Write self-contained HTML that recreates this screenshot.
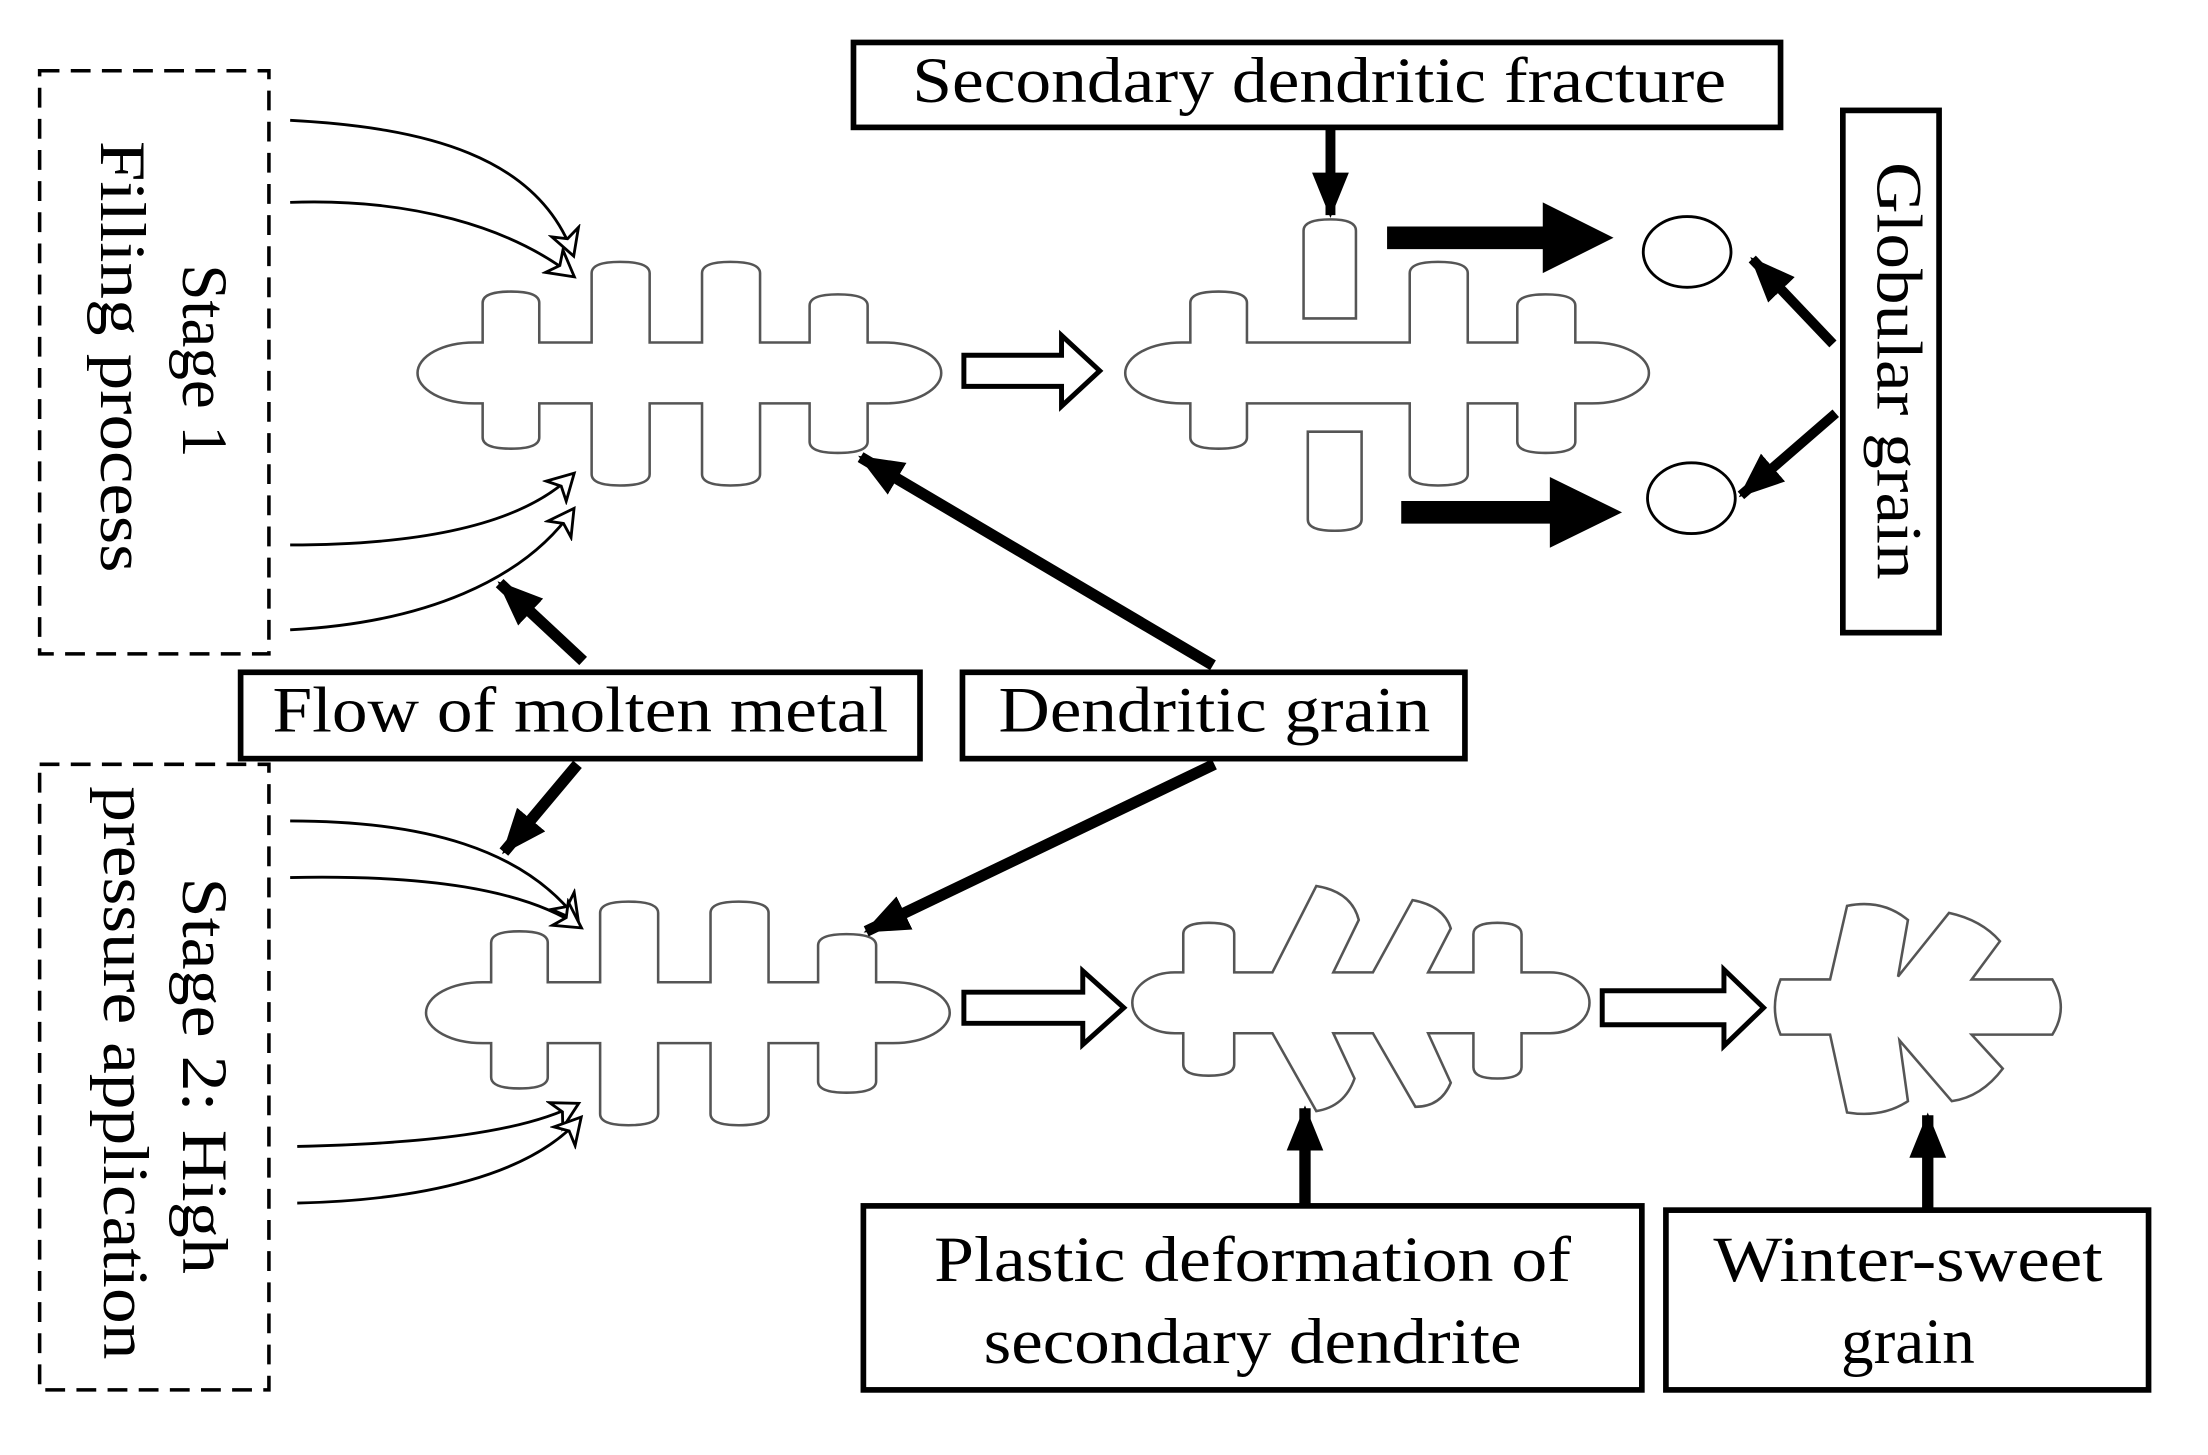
<!DOCTYPE html>
<html><head><meta charset="utf-8"><style>
html,body{margin:0;padding:0;background:#fff;}
svg{display:block;}
text{font-family:"Liberation Serif",serif;font-size:46px;fill:#000;}
</style></head><body>
<svg width="2208" height="1455" viewBox="0 0 1560 1028" preserveAspectRatio="none" xmlns="http://www.w3.org/2000/svg">
<defs>
<marker id="open" markerWidth="24" markerHeight="24" refX="19" refY="12" orient="auto" markerUnits="userSpaceOnUse">
<path d="M2,2 L20,12 L2,22 L7,12 Z" fill="#fff" stroke="#000" stroke-width="2"/>
</marker>
<marker id="solid" markerWidth="34" markerHeight="34" refX="30" refY="17" orient="auto" markerUnits="userSpaceOnUse">
<path d="M0,4 L32,17 L0,30 Z" fill="#000"/>
</marker>
</defs>

<rect x="28" y="50" width="162" height="412" fill="none" stroke="#000" stroke-width="2.5" stroke-dasharray="14,8"/>
<rect x="28" y="540" width="162" height="442" fill="none" stroke="#000" stroke-width="2.5" stroke-dasharray="14,8"/>
<text transform="translate(140,255) rotate(90)" text-anchor="middle" dominant-baseline="middle">Stage 1</text>
<text transform="translate(82,252) rotate(90)" text-anchor="middle" dominant-baseline="middle" textLength="305" lengthAdjust="spacingAndGlyphs">Filling process</text>
<text transform="translate(140,760) rotate(90)" text-anchor="middle" dominant-baseline="middle" textLength="280" lengthAdjust="spacingAndGlyphs">Stage 2: High</text>
<text transform="translate(84,758) rotate(90)" text-anchor="middle" dominant-baseline="middle" textLength="405" lengthAdjust="spacingAndGlyphs">pressure application</text>

<g fill="none" stroke="#000" stroke-width="2" marker-end="url(#open)">
<path d="M205,85 C300,90 380,110 405,180"/>
<path d="M205,143 C290,140 360,160 405,195"/>
<path d="M205,385 C300,385 370,370 405,335"/>
<path d="M205,445 C300,440 370,410 405,360"/>
<path d="M205,580 C300,580 370,600 408,650"/>
<path d="M205,620 C300,618 370,628 410,655"/>
<path d="M210,810 C300,808 370,800 408,780"/>
<path d="M210,850 C300,848 375,830 410,790"/>
</g>

<g fill="#fff" stroke="#555" stroke-width="1.8">
<path d="M335,242 L341,242 L341,214 Q341,206 361,206 Q381,206 381,214 L381,242 L418,242 L418,193 Q418,185 438,185 Q459,185 459,193 L459,242 L496,242 L496,193 Q496,185 516,185 Q537,185 537,193 L537,242 L572,242 L572,216 Q572,208 592,208 Q613,208 613,216 L613,242 L625,242 A40,21.5 0 0 1 625,285 L613,285 L613,312 Q613,320 592,320 Q572,320 572,312 L572,285 L537,285 L537,335 Q537,343 516,343 Q496,343 496,335 L496,285 L459,285 L459,335 Q459,343 438,343 Q418,343 418,335 L418,285 L381,285 L381,309 Q381,317 361,317 Q341,317 341,309 L341,285 L335,285 A40,21.5 0 0 1 335,242 Z"/>
<path transform="translate(6,452)" d="M335,242 L341,242 L341,214 Q341,206 361,206 Q381,206 381,214 L381,242 L418,242 L418,193 Q418,185 438,185 Q459,185 459,193 L459,242 L496,242 L496,193 Q496,185 516,185 Q537,185 537,193 L537,242 L572,242 L572,216 Q572,208 592,208 Q613,208 613,216 L613,242 L625,242 A40,21.5 0 0 1 625,285 L613,285 L613,312 Q613,320 592,320 Q572,320 572,312 L572,285 L537,285 L537,335 Q537,343 516,343 Q496,343 496,335 L496,285 L459,285 L459,335 Q459,343 438,343 Q418,343 418,335 L418,285 L381,285 L381,309 Q381,317 361,317 Q341,317 341,309 L341,285 L335,285 A40,21.5 0 0 1 335,242 Z"/>
<path transform="translate(500,0)" d="M335,242 L341,242 L341,214 Q341,206 361,206 Q381,206 381,214 L381,242 L496,242 L496,193 Q496,185 516,185 Q537,185 537,193 L537,242 L572,242 L572,216 Q572,208 592,208 Q613,208 613,216 L613,242 L625,242 A40,21.5 0 0 1 625,285 L613,285 L613,312 Q613,320 592,320 Q572,320 572,312 L572,285 L537,285 L537,335 Q537,343 516,343 Q496,343 496,335 L496,285 L381,285 L381,309 Q381,317 361,317 Q341,317 341,309 L341,285 L335,285 A40,21.5 0 0 1 335,242 Z"/>
<path d="M921,225 L921,163 Q921,155 940,155 Q958,155 958,163 L958,225 Z"/>
<path d="M924,305 L962,305 L962,367 Q962,375 943,375 Q924,375 924,367 Z"/>
<path d="M830,687 L836,687 L836,660 Q836,652 854,652 Q872,652 872,660 L872,687 L899,687 L930,626 Q955,630 960,650 L942,687 L970,687 L998,636 Q1020,640 1025,656 L1009,687 L1041,687 L1041,660 Q1041,652 1058,652 Q1075,652 1075,660 L1075,687 L1095,687 A28,21.5 0 0 1 1095,730 L1075,730 L1075,754 Q1075,762 1058,762 Q1041,762 1041,754 L1041,730 L1009,730 L1025,765 Q1018,782 1000,782 L970,730 L942,730 L957,762 Q950,782 930,785 L899,730 L872,730 L872,752 Q872,760 854,760 Q836,760 836,752 L836,730 L830,730 A30,21.5 0 0 1 830,687 Z"/>
<path d="M1258,692 L1293,692 L1305,640 Q1330,635 1348,650 L1341,690 L1377,645 Q1400,650 1413,665 L1393,692 L1450,692 Q1462,712 1450,731 L1393,731 L1415,755 Q1400,775 1379,778 L1342,735 L1348,778 Q1330,790 1305,786 L1293,731 L1258,731 Q1250,712 1258,692 Z"/>
</g>

<ellipse cx="1192" cy="178" rx="31" ry="25" fill="#fff" stroke="#000" stroke-width="2"/>
<ellipse cx="1195" cy="352" rx="31" ry="25" fill="#fff" stroke="#000" stroke-width="2"/>

<g fill="#fff" stroke="#000" stroke-width="3.5">
<path d="M681,251 L750,251 L750,237 L777,262 L750,287 L750,273 L681,273 Z"/>
<path d="M681,701 L765,701 L765,686 L794,712 L765,738 L765,723 L681,723 Z"/>
<path d="M1132,700 L1218,700 L1218,685 L1246,712 L1218,739 L1218,724 L1132,724 Z"/>
</g>

<!-- thick black arrows as polygons -->
<path d="M980,160 L1090,160 L1090,143 L1140,168 L1090,193 L1090,176 L980,176 Z" fill="#000"/>
<path d="M990,354 L1095,354 L1095,337 L1146,362 L1095,387 L1095,370 L990,370 Z" fill="#000"/>

<g stroke="#000" fill="none">
<line x1="940" y1="90" x2="940" y2="152" stroke-width="7" marker-end="url(#solid)"/>
<line x1="1295" y1="243" x2="1238" y2="183" stroke-width="7" marker-end="url(#solid)"/>
<line x1="1297" y1="292" x2="1230" y2="350" stroke-width="7" marker-end="url(#solid)"/>
<line x1="412" y1="467" x2="353" y2="412" stroke-width="8" marker-end="url(#solid)"/>
<line x1="408" y1="540" x2="356" y2="602" stroke-width="8" marker-end="url(#solid)"/>
<line x1="857" y1="470" x2="608" y2="323" stroke-width="8" marker-end="url(#solid)"/>
<line x1="858" y1="540" x2="612" y2="658" stroke-width="8" marker-end="url(#solid)"/>
<line x1="922" y1="852" x2="922" y2="783" stroke-width="8" marker-end="url(#solid)"/>
<line x1="1362" y1="855" x2="1362" y2="788" stroke-width="8" marker-end="url(#solid)"/>
</g>

<g fill="#fff" stroke="#000" stroke-width="4">
<rect x="603" y="30" width="655" height="60"/>
<rect x="1302" y="78" width="68" height="369"/>
<rect x="170" y="475" width="480" height="61"/>
<rect x="680" y="475" width="355" height="61"/>
<rect x="610" y="852" width="550" height="130"/>
<rect x="1177" y="855" width="341" height="127"/>
</g>
<text x="932" y="72" text-anchor="middle" textLength="575" lengthAdjust="spacingAndGlyphs">Secondary dendritic fracture</text>
<text transform="translate(1337,262) rotate(90)" text-anchor="middle" dominant-baseline="middle" textLength="295" lengthAdjust="spacingAndGlyphs">Globular grain</text>
<text x="410" y="517" text-anchor="middle" textLength="435" lengthAdjust="spacingAndGlyphs">Flow of molten metal</text>
<text x="858" y="517" text-anchor="middle" textLength="305" lengthAdjust="spacingAndGlyphs">Dendritic grain</text>
<text x="885" y="905" text-anchor="middle" textLength="450" lengthAdjust="spacingAndGlyphs">Plastic deformation of</text>
<text x="885" y="963" text-anchor="middle" textLength="380" lengthAdjust="spacingAndGlyphs">secondary dendrite</text>
<text x="1348" y="905" text-anchor="middle" textLength="275" lengthAdjust="spacingAndGlyphs">Winter-sweet</text>
<text x="1348" y="963" text-anchor="middle">grain</text>
</svg>
</body></html>
